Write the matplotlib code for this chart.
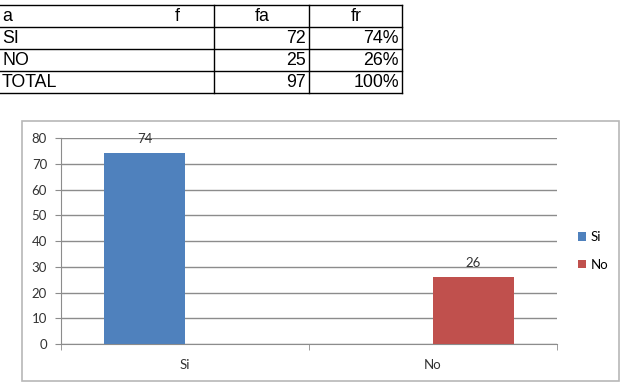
import numpy as np
import matplotlib
matplotlib.use('Agg')
import matplotlib.pyplot as plt
from matplotlib.patches import Rectangle

# data
categories = ['Si', 'No']
values = [74, 26]
colors = ['#4F81BD', '#C0504D']

table_labels = ['SI', 'NO', 'TOTAL']
table_fa = [72, 25, 97]
table_fr = ['74%', '26%', '100%']

W, H = 621, 382
fig = plt.figure(figsize=(W / 100, H / 100), dpi=100)

# overlay in pixel coordinates for the table and the chart frame
over = fig.add_axes([0, 0, 1, 1])
over.set_xlim(0, W)
over.set_ylim(H, 0)
over.axis('off')

# chart frame
over.add_patch(Rectangle((22, 121), 597, 260, fill=False, edgecolor='#b8b8b8', lw=1.2))

# table
rows_y = [5, 27, 49, 71, 93]
cols_x = [214, 309, 402]
for y in rows_y:
    over.plot([0, 402], [y, y], color='black', lw=1)
for x in cols_x:
    over.plot([x, x], [5, 93], color='black', lw=1)

tfont = dict(family='Liberation Sans', fontsize=12.8, color='black', va='center')
over.text(2, 16.5, 'a', ha='left', **tfont)
over.text(177, 16.5, 'f', ha='center', **tfont)
over.text(262, 16.5, 'fa', ha='center', **tfont)
over.text(356, 16.5, 'fr', ha='center', **tfont)
for i, lab in enumerate(table_labels):
    yc = (rows_y[i + 1] + rows_y[i + 2]) / 2 + 0.5
    over.text(2, yc, lab, ha='left', **tfont)
    over.text(306, yc, str(table_fa[i]), ha='right', **tfont)
    over.text(399, yc, table_fr[i], ha='right', **tfont)

# bar chart
x0, x1, y0, y1 = 61, 557, 344, 138
ax = fig.add_axes([x0 / W, (H - y0) / H, (x1 - x0) / W, (y0 - y1) / H])
ax.set_zorder(2)
ax.patch.set_alpha(0)

width = 0.325
offsets = [-width / 2, width / 2]
for i, cat in enumerate(categories):
    b = ax.bar(i + offsets[i], values[i], width=width, color=colors[i], label=cat, zorder=3)
    ax.bar_label(b, padding=6, fontsize=9.5, color='#333333', family='Lato')

ax.set_xlim(-0.5, len(categories) - 0.5)
ax.set_ylim(0, 80)
ax.set_yticks(np.arange(0, 81, 10))
ax.yaxis.grid(True, color='#8c8c8c', lw=1)
ax.set_axisbelow(True)

ax.set_xticks(range(len(categories)))
ax.set_xticklabels(categories)
ax.set_xticks(np.arange(-0.5, len(categories)), minor=True)
ax.tick_params(axis='x', which='major', length=0, pad=11)
ax.tick_params(axis='x', which='minor', length=4, color='#8c8c8c', direction='out')
ax.tick_params(axis='y', length=4, color='#8c8c8c', pad=6)
for lab in ax.get_xticklabels() + ax.get_yticklabels():
    lab.set_family('Lato')
    lab.set_fontsize(9.5)
    lab.set_color('#333333')

for s in ['top', 'right']:
    ax.spines[s].set_visible(False)
for s in ['left', 'bottom']:
    ax.spines[s].set_color('#8c8c8c')

ax.legend(loc='center left', bbox_to_anchor=(571 / W, (H - 251) / H),
          bbox_transform=fig.transFigure, frameon=False,
          prop={'family': 'Lato', 'size': 9.5}, handlelength=0.6, handleheight=0.6,
          handletextpad=0.4, labelspacing=1.2, borderpad=0)

fig.savefig('out.png', dpi=100)
